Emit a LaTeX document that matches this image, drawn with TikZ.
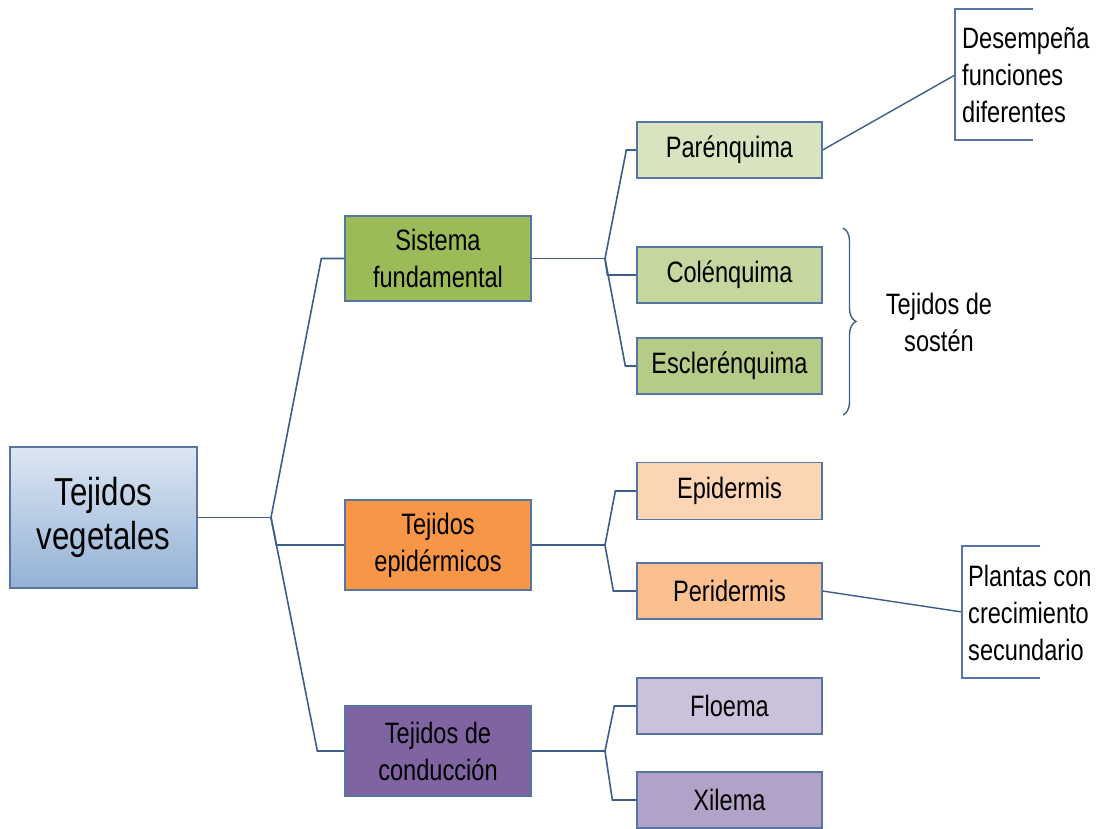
\documentclass[tikz,border=0pt]{standalone}
\usepackage{fontspec}
\setmainfont{Liberation Sans}[FakeStretch=0.8]
\usetikzlibrary{decorations.pathreplacing}
\definecolor{edge}{HTML}{3E5D8B}
\definecolor{bord}{HTML}{5675A3}
\definecolor{rootT}{HTML}{DCE6F2}
\definecolor{rootB}{HTML}{93B1D6}
\definecolor{sisF}{HTML}{9BBB59}
\definecolor{parF}{HTML}{D8E4BF}
\definecolor{colF}{HTML}{C4D79E}
\definecolor{escF}{HTML}{B5CB88}
\definecolor{epiF}{HTML}{F79646}
\definecolor{epdF}{HTML}{FCD5B5}
\definecolor{perF}{HTML}{FAC08F}
\definecolor{conF}{HTML}{8064A2}
\definecolor{floF}{HTML}{CCC1DA}
\definecolor{xilF}{HTML}{B3A2C7}
\tikzset{
  box/.style={draw=bord, line width=1.3pt, align=center, inner sep=0pt,
    font=\fontsize{29.5}{37}\selectfont, text=black},
  midbox/.style={box, minimum width=186pt, minimum height=88pt},
  leafbox/.style={box, minimum width=185pt, minimum height=56pt},
  conn/.style={draw=edge, line width=1.6pt},
  note/.style={align=left, anchor=west, inner sep=0pt, font=\fontsize{29.5}{37}\selectfont},
}
\begin{document}
\begin{tikzpicture}[x=1pt,y=-1pt]
\useasboundingbox (0,0) rectangle (1104,828);
\fill[white] (0,0) rectangle (1104,828);

% root
\node[box, minimum width=187pt, minimum height=141pt, top color=rootT, bottom color=rootB,
      font=\fontsize{39}{44}\selectfont] (root) at (103.5,517.5) {Tejidos\\vegetales};

% level 1
\node[midbox, fill=sisF, minimum height=85pt] (sis) at (438,258.5) {Sistema\\fundamental};
\node[midbox, fill=epiF, minimum height=90pt] (epi) at (438,545) {Tejidos\\epidérmicos};
\node[midbox, fill=conF, minimum height=90pt] (con) at (438,751) {Tejidos de\\conducción};

% level 2
\node[leafbox, fill=parF] (par) at (729.5,150) {Parénquima};
\node[leafbox, fill=colF] (col) at (729.5,275) {Colénquima};
\node[leafbox, fill=escF] (esc) at (729.5,366) {Esclerénquima};
\node[leafbox, fill=epdF, minimum height=57pt] (epd) at (729.5,491) {Epidermis};
\node[leafbox, fill=perF] (per) at (729.5,591) {Peridermis};
\node[leafbox, fill=floF] (flo) at (729.5,706) {Floema};
\node[leafbox, fill=xilF] (xil) at (729.5,800) {Xilema};

% junctions
\coordinate (j0) at (271,517.5);
\coordinate (j1) at (605,258.5);
\coordinate (j2) at (605,545);
\coordinate (j3) at (605,751);

% connectors root
\draw[conn] (root.east) -- (j0);
\draw[conn] (j0) -- ([xshift=-23pt]sis.west) -- (sis.west);
\draw[conn] (j0) -- ([xshift=-68pt]epi.west) -- (epi.west);
\draw[conn] (j0) -- ([xshift=-27pt]con.west) -- (con.west);

% connectors sistema
\draw[conn] (sis.east) -- (j1);
\draw[conn] (j1) -- ([xshift=-10pt]par.west) -- (par.west);
\draw[conn] (j1) -- ([xshift=-29pt]col.west) -- (col.west);
\draw[conn] (j1) -- ([xshift=-11pt]esc.west) -- (esc.west);

% connectors epidermicos
\draw[conn] (epi.east) -- (j2);
\draw[conn] (j2) -- ([xshift=-21pt]epd.west) -- (epd.west);
\draw[conn] (j2) -- ([xshift=-23pt]per.west) -- (per.west);

% connectors conduccion
\draw[conn] (con.east) -- (j3);
\draw[conn] (j3) -- ([xshift=-22pt]flo.west) -- (flo.west);
\draw[conn] (j3) -- ([xshift=-24pt]xil.west) -- (xil.west);

% annotation 1
\coordinate (a1) at (955,75);
\draw[conn, line width=1.4pt] (par.east) -- (a1);
\draw[draw=bord, line width=1.3pt] (1033,9) -- (955,9) -- (955,140) -- (1033,140);
\node[note] (n1) at (962,75) {Desempeña\\funciones\\diferentes};

% annotation 2
\coordinate (a2) at (962,612);
\draw[conn, line width=1.4pt] (per.east) -- (a2);
\draw[draw=bord, line width=1.3pt] (1040,546) -- (962,546) -- (962,678) -- (1040,678);
\node[note] (n2) at (968,613) {Plantas con\\crecimiento\\secundario};

% brace
\draw[draw=bord!80!black, line width=1.4pt, decorate, decoration={brace, amplitude=13pt}]
  (843,228) -- (843,415);
\node[align=center, inner sep=0pt, font=\fontsize{29.5}{37}\selectfont] (n3) at (939,322) {Tejidos de\\sostén};
\end{tikzpicture}
\end{document}
